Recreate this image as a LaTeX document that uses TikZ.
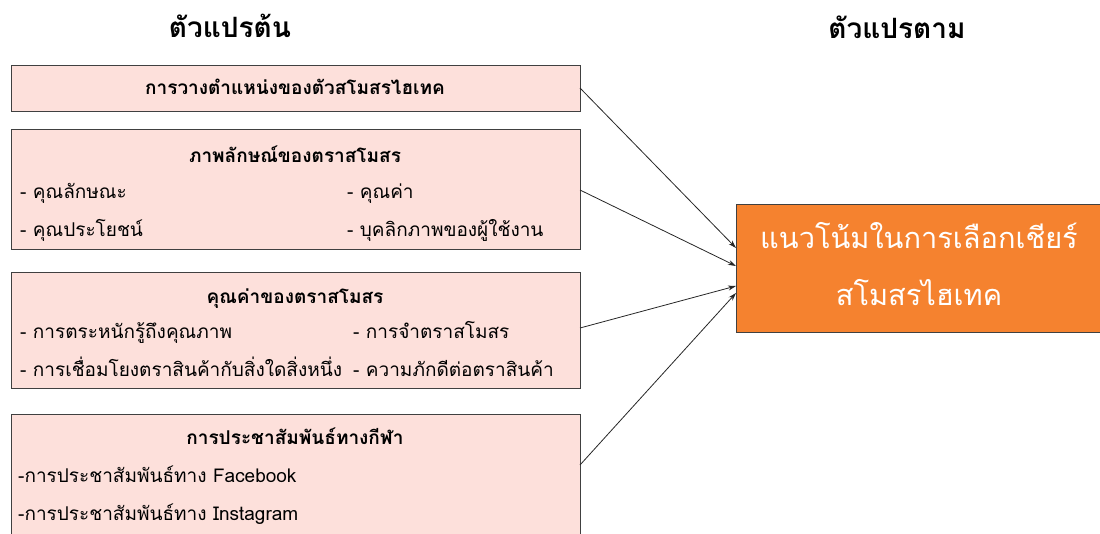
\documentclass[tikz,border=0pt]{standalone}
\usepackage{fontspec}
\setmainfont[Script=Thai]{Loma}
\usetikzlibrary{arrows.meta}
\definecolor{pinkfill}{HTML}{FDE0DB}
\definecolor{orangefill}{HTML}{F5822F}
\definecolor{boxline}{HTML}{404040}
\tikzset{
  x=1pt,y=-1pt,
  pinkbox/.style={draw=boxline,line width=1pt,fill=pinkfill},
  orangebox/.style={draw=boxline,line width=1pt,fill=orangefill},
  head/.style={font=\fontsize{28}{32}\selectfont\bfseries,inner sep=0pt,anchor=base},
  boxtitle/.style={font=\fontsize{19}{22}\selectfont\bfseries,inner sep=0pt,anchor=base},
  item/.style={font=\fontsize{19}{22}\selectfont,inner sep=0pt,anchor=base west},
  big/.style={font=\fontsize{29}{34}\selectfont,text=white,inner sep=0pt,anchor=base},
  conn/.style={draw=black!85,line width=0.8pt,-{Stealth[length=8pt,width=5pt]}}
}
\begin{document}
\begin{tikzpicture}
\useasboundingbox (0,0) rectangle (1100,534);
\clip (0,0) rectangle (1100,534);
% headings
\node[head] (hl) at (230,38) {ตัวแปรต้น};
\node[head] (hr) at (897,39) {ตัวแปรตาม};
% box 1
\path[pinkbox] (11,66) rectangle (580,112);
\coordinate (b1) at (580,88);
\node[boxtitle] (t1) at (295,95) {การวางตำแหน่งของตัวสโมสรไฮเทค};
% box 2
\path[pinkbox] (11,130) rectangle (580,250);
\coordinate (b2) at (580,190);
\node[boxtitle] (t2) at (295,163) {ภาพลักษณ์ของตราสโมสร};
\node[item] (i21) at (20,199) {- คุณลักษณะ};
\node[item] (i22) at (347,199) {- คุณค่า};
\node[item] (i23) at (20,237) {- คุณประโยชน์};
\node[item] (i24) at (347,237) {- บุคลิกภาพของผู้ใช้งาน};
% box 3
\path[pinkbox] (11,273) rectangle (580,388);
\coordinate (b3) at (580,328);
\node[boxtitle] (t3) at (295,304) {คุณค่าของตราสโมสร};
\node[item] (i31) at (20,339) {- การตระหนักรู้ถึงคุณภาพ};
\node[item] (i32) at (353,339) {- การจำตราสโมสร};
\node[item] (i33) at (20,377) {- การเชื่อมโยงตราสินค้ากับสิ่งใดสิ่งหนึ่ง};
\node[item] (i34) at (353,377) {- ความภักดีต่อตราสินค้า};
% box 4
\path[pinkbox] (11,414) rectangle (580,560);
\coordinate (b4) at (580,465);
\node[boxtitle] (t4) at (295,444) {การประชาสัมพันธ์ทางกีฬา};
\node[item] (i41) at (18,482) {-การประชาสัมพันธ์ทาง Facebook};
\node[item] (i42) at (18,520) {-การประชาสัมพันธ์ทาง Instagram};
% dependent variable
\path[orangebox] (736,205) rectangle (1110,333);
\node[big] (d1) at (919,249) {แนวโน้มในการเลือกเชียร์};
\node[big] (d2) at (919,306) {สโมสรไฮเทค};
\coordinate (e1) at (736,248);
\coordinate (e2) at (736,266);
\coordinate (e3) at (736,286);
\coordinate (e4) at (736,293);
% connectors
\draw[conn] (b1) -- (e1);
\draw[conn] (b2) -- (e2);
\draw[conn] (b3) -- (e3);
\draw[conn] (b4) -- (e4);
\end{tikzpicture}
\end{document}
